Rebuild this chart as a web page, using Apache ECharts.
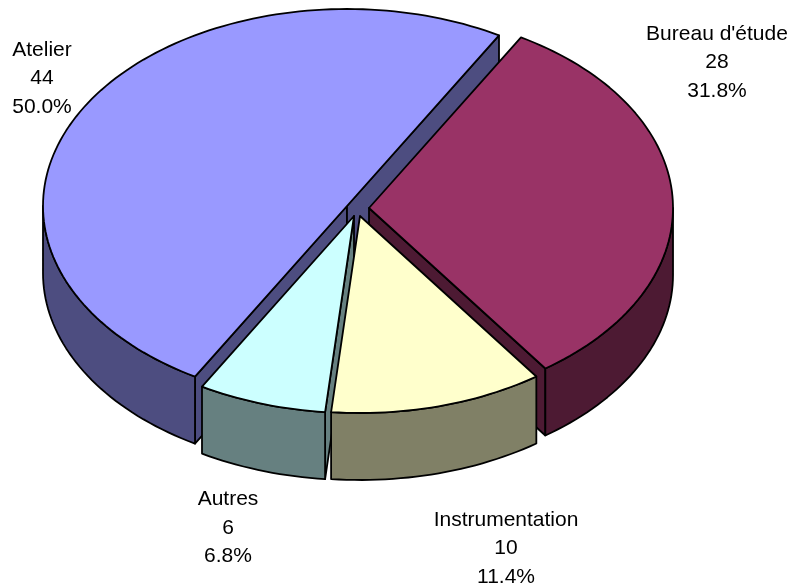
<!DOCTYPE html>
<html>
<head>
<meta charset="utf-8">
<style>html,body{margin:0;padding:0;background:#fff}#c{width:793px;height:587px}</style>
<script src="https://cdn.jsdelivr.net/npm/echarts@6/dist/echarts.min.js"></script>
</head>
<body>
<div id="c"></div>
<script>
var categories = ["Bureau d'étude", "Instrumentation", "Autres", "Atelier"];
var values = [28, 10, 6, 44];
var topColors = ['#993366', '#FFFFCC', '#CCFFFF', '#9999FF'];
var sideColors = ['#4D1A33', '#808066', '#668080', '#4D4D80'];

// projection and layout of the exploded 3D pie
var RX = 304, RY = 197, DEPTH = 67, START = 60;
var centers = [[369, 208], [360, 216], [354, 216], [347, 206]];
var paintRank = [1, 3, 2, 0];
var labelAt = [[717, 19.5], [506, 505.5], [228, 485], [42, 35.5]];

var total = values.reduce(function (a, b) { return a + b; }, 0);
function rad(d) { return d * Math.PI / 180; }

function renderSlice(params, api) {
  var i = params.dataIndex;
  var before = 0;
  for (var k = 0; k < i; k++) before += values[k];
  var v = api.value(0);
  var a0 = START - before / total * 360;
  var a1 = a0 - v / total * 360;
  var c = centers[i];
  var pt = function (a, d) {
    return [c[0] + RX * Math.cos(rad(a)), c[1] - RY * Math.sin(rad(a)) + (d || 0)];
  };
  var arc = function (from, to, d) {
    var n = Math.max(2, Math.ceil(Math.abs(to - from) / 1.5)), out = [];
    for (var j = 0; j <= n; j++) out.push(pt(from + (to - from) * j / n, d));
    return out;
  };
  var z = paintRank[i] * 10;
  var stroke = { stroke: '#000', lineWidth: 1.8, lineJoin: 'round' };
  var side = Object.assign({ fill: sideColors[i] }, stroke);
  var top = Object.assign({ fill: topColors[i] }, stroke);
  var children = [];
  var cutWall = function (a) {
    children.push({
      type: 'polygon', z2: z,
      shape: { points: [c, pt(a), pt(a, DEPTH), [c[0], c[1] + DEPTH]] },
      style: side
    });
  };
  if (Math.sin(rad(a0 + 90)) < -1e-6) cutWall(a0);
  if (Math.sin(rad(a1 - 90)) < -1e-6) cutWall(a1);
  // outer wall: the part of the rim facing the viewer (lower half)
  var lo = Math.max(a1, -180), hi = Math.min(a0, 0);
  if (hi > lo) {
    var front = arc(hi, lo, 0).concat(arc(lo, hi, DEPTH));
    children.push({ type: 'polygon', z2: z + 1, shape: { points: front }, style: side });
  }
  children.push({
    type: 'polygon', z2: z + 2,
    shape: { points: [c].concat(arc(a0, a1, 0)) },
    style: top
  });
  children.push({
    type: 'text', z2: 100, x: labelAt[i][0], y: labelAt[i][1],
    style: {
      text: categories[i] + '\n' + v + '\n' + (v / total * 100).toFixed(1) + '%',
      fontFamily: '"Liberation Sans", Arial, sans-serif', fontSize: 21,
      lineHeight: 28.5, fill: '#000', align: 'center', verticalAlign: 'top'
    }
  });
  return { type: 'group', children: children };
}

var chart = echarts.init(document.getElementById('c'), null, { renderer: 'canvas' });
chart.setOption({
  animation: false,
  backgroundColor: '#fff',
  series: [{
    type: 'custom',
    coordinateSystem: 'none',
    renderItem: renderSlice,
    silent: true,
    data: categories.map(function (n, i) { return { name: n, value: [values[i]] }; })
  }]
});
</script>
</body>
</html>
